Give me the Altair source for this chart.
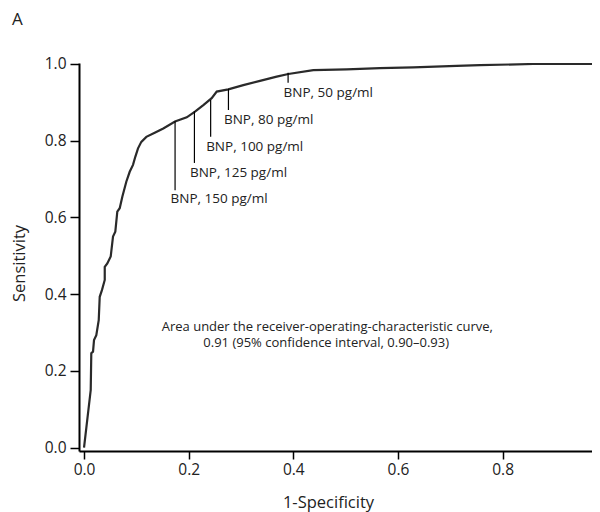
import altair as alt
import pandas as pd

# ROC curve
fpr = [0, 0.0128, 0.0139, 0.0172, 0.0191, 0.0235, 0.0281, 0.0300, 0.0344, 0.0396, 0.0396,
       0.0445, 0.0510, 0.0554, 0.0598, 0.0636, 0.0682, 0.0732, 0.0808, 0.0873, 0.0936,
       0.0980, 0.1032, 0.1095, 0.1191, 0.1351, 0.1515, 0.1739, 0.1963, 0.2121, 0.2280,
       0.2440, 0.2536, 0.2757, 0.3044, 0.3363, 0.3682, 0.3904, 0.4382, 0.5020, 0.5656,
       0.6293, 0.7122, 0.7567, 0.8586, 0.986, 1.0]
tpr = [0, 0.150, 0.246, 0.250, 0.280, 0.293, 0.332, 0.393, 0.411, 0.437, 0.471,
       0.480, 0.498, 0.550, 0.563, 0.615, 0.624, 0.654, 0.693, 0.719, 0.737,
       0.758, 0.780, 0.797, 0.810, 0.821, 0.832, 0.850, 0.861, 0.876, 0.893,
       0.911, 0.928, 0.934, 0.945, 0.956, 0.967, 0.974, 0.984, 0.986, 0.989,
       0.991, 0.995, 0.997, 1.0, 1.0, 1.0]

# BNP cut-off annotations
cut_labels = ["BNP, 50 pg/ml", "BNP, 80 pg/ml", "BNP, 100 pg/ml", "BNP, 125 pg/ml", "BNP, 150 pg/ml"]
cut_fpr = [0.390, 0.276, 0.242, 0.211, 0.174]
cut_sens = [0.977, 0.935, 0.906, 0.877, 0.851]
cut_line_end = [0.951, 0.880, 0.810, 0.742, 0.671]
cut_label_y = [0.924, 0.854, 0.784, 0.716, 0.648]

note_lines = ["Area under the receiver-operating-characteristic curve,",
              "0.91 (95% confidence interval, 0.90\u20130.93)"]
note_x = [0.1485, 0.228]
note_y = [0.315, 0.272]

FONT = "Open Sans"
INK = "#222222"

roc = pd.DataFrame({"i": range(len(fpr)), "fpr": fpr, "tpr": tpr})
cuts = pd.DataFrame({"label": cut_labels, "fpr": cut_fpr, "sens": cut_sens,
                     "end": cut_line_end, "ly": cut_label_y})
notes = pd.DataFrame({"text": note_lines, "x": note_x, "y": note_y})

xs = alt.Scale(domain=[-0.0096, 0.9708], nice=False, zero=False)
ys = alt.Scale(domain=[-0.009, 1.0026], nice=False, zero=False)

xaxis = alt.Axis(values=[0, 0.2, 0.4, 0.6, 0.8], format=".1f", title="1-Specificity",
                 grid=False, domainColor="black", domainWidth=2, tickColor="black",
                 tickWidth=1.5, tickSize=8, labelFontSize=15.5, labelFont=FONT,
                 labelColor=INK, labelPadding=3, titleFont=FONT, titleFontSize=16.5,
                 titleFontWeight="normal", titleColor=INK, titlePadding=17, titleX=249)
yaxis = alt.Axis(values=[0, 0.2, 0.4, 0.6, 0.8, 1.0], format=".1f", title="Sensitivity",
                 grid=False, domainColor="black", domainWidth=2, tickColor="black",
                 tickWidth=1.5, tickSize=9, labelFontSize=15.5, labelFont=FONT,
                 labelColor=INK, labelPadding=4, titleFont=FONT, titleFontSize=16.5,
                 titleFontWeight="normal", titleColor=INK, titlePadding=17, titleY=200)

line = alt.Chart(roc).mark_line(color="#2a2a2a", strokeWidth=2.2, clip=True).encode(
    x=alt.X("fpr:Q", scale=xs, axis=xaxis),
    y=alt.Y("tpr:Q", scale=ys, axis=yaxis),
    order="i:Q",
)

rules = alt.Chart(cuts).mark_rule(color="black", strokeWidth=1.2).encode(
    x="fpr:Q", y="sens:Q", y2="end:Q"
)

labels = alt.Chart(cuts).mark_text(align="left", baseline="middle", dx=-4.5,
                                   font=FONT, fontSize=13.5, color=INK).encode(
    x="fpr:Q", y="ly:Q", text="label:N"
)

note = alt.Chart(notes).mark_text(align="left", baseline="middle",
                                  font=FONT, fontSize=13, color=INK).encode(
    x="x:Q", y="y:Q", text="text:N"
)

chart = alt.layer(line, rules, labels, note).properties(
    width=513, height=388,
    autosize=alt.AutoSizeParams(type="none"),
    padding={"left": 71, "top": 55, "right": 0, "bottom": 62},
    title=alt.TitleParams("A", anchor="start", frame="group", font=FONT, fontSize=17,
                          fontWeight="normal", color=INK, dx=-67, offset=15,
                          baseline="alphabetic"),
).configure_view(stroke=None)

chart.save("out.html", embed_options={"renderer": "svg", "actions": False})
